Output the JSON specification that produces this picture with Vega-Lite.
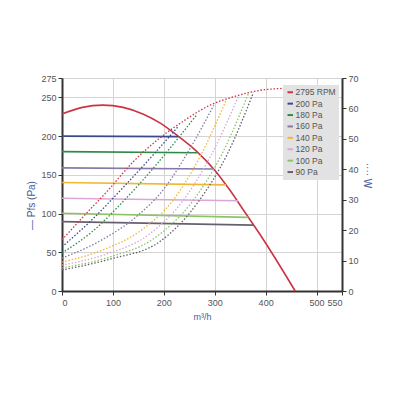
{
  "$schema": "https://vega.github.io/schema/vega-lite/v6.json",
  "width": 280,
  "height": 213,
  "autosize": {"type": "none"},
  "padding": {"left": 62, "top": 78, "right": 57, "bottom": 108},
  "background": "white",
  "config": {
    "font": "Liberation Sans",
    "view": {"stroke": null},
    "axis": {"labelFont": "Liberation Sans", "titleFont": "Liberation Sans", "labelColor": "#555", "labelFontSize": 9, "domainColor": "#333", "domainWidth": 2, "tickColor": "#333", "tickSize": 4, "gridColor": "#d4d4d4", "gridWidth": 1, "titleFontWeight": "normal"},
    "legend": {"labelFont": "Liberation Sans"}
  },
  "datasets": {
    "pressure": [
      {"series": "2795 RPM", "q": 0, "v": 228.5},
      {"series": "2795 RPM", "q": 40, "v": 237.1},
      {"series": "2795 RPM", "q": 80, "v": 240},
      {"series": "2795 RPM", "q": 120, "v": 237.1},
      {"series": "2795 RPM", "q": 160, "v": 228.3},
      {"series": "2795 RPM", "q": 193, "v": 216.7},
      {"series": "2795 RPM", "q": 228, "v": 200},
      {"series": "2795 RPM", "q": 265, "v": 180},
      {"series": "2795 RPM", "q": 300, "v": 156},
      {"series": "2795 RPM", "q": 330, "v": 130},
      {"series": "2795 RPM", "q": 360, "v": 101},
      {"series": "2795 RPM", "q": 390, "v": 72},
      {"series": "2795 RPM", "q": 420, "v": 41},
      {"series": "2795 RPM", "q": 458, "v": 0},
      {"series": "200 Pa", "q": 0, "v": 200},
      {"series": "200 Pa", "q": 228, "v": 199.3},
      {"series": "180 Pa", "q": 0, "v": 180},
      {"series": "180 Pa", "q": 265, "v": 178.5},
      {"series": "160 Pa", "q": 0, "v": 159},
      {"series": "160 Pa", "q": 298, "v": 157.5},
      {"series": "140 Pa", "q": 0, "v": 140},
      {"series": "140 Pa", "q": 322, "v": 137},
      {"series": "120 Pa", "q": 0, "v": 119.7},
      {"series": "120 Pa", "q": 346, "v": 116.5},
      {"series": "100 Pa", "q": 0, "v": 100.3},
      {"series": "100 Pa", "q": 366, "v": 95},
      {"series": "90 Pa", "q": 0, "v": 89.6},
      {"series": "90 Pa", "q": 376, "v": 85}
    ],
    "power": [
      {"series": "2795 RPM", "q": 0, "v": 16.8},
      {"series": "2795 RPM", "q": 45, "v": 25},
      {"series": "2795 RPM", "q": 90, "v": 33},
      {"series": "2795 RPM", "q": 140, "v": 42.5},
      {"series": "2795 RPM", "q": 190, "v": 50},
      {"series": "2795 RPM", "q": 240, "v": 56},
      {"series": "2795 RPM", "q": 290, "v": 61},
      {"series": "2795 RPM", "q": 340, "v": 64},
      {"series": "2795 RPM", "q": 400, "v": 66.2},
      {"series": "2795 RPM", "q": 458, "v": 66.7},
      {"series": "200 Pa", "q": 0, "v": 14.5},
      {"series": "200 Pa", "q": 60, "v": 23.6},
      {"series": "200 Pa", "q": 120, "v": 34},
      {"series": "200 Pa", "q": 180, "v": 44.9},
      {"series": "200 Pa", "q": 228, "v": 54},
      {"series": "180 Pa", "q": 0, "v": 12.5},
      {"series": "180 Pa", "q": 60, "v": 19.6},
      {"series": "180 Pa", "q": 120, "v": 29.4},
      {"series": "180 Pa", "q": 180, "v": 40.5},
      {"series": "180 Pa", "q": 230, "v": 50.6},
      {"series": "180 Pa", "q": 265, "v": 58},
      {"series": "160 Pa", "q": 0, "v": 10.8},
      {"series": "160 Pa", "q": 75, "v": 16.5},
      {"series": "160 Pa", "q": 150, "v": 25},
      {"series": "160 Pa", "q": 200, "v": 33.5},
      {"series": "160 Pa", "q": 250, "v": 46.4},
      {"series": "160 Pa", "q": 298, "v": 61},
      {"series": "140 Pa", "q": 0, "v": 9.5},
      {"series": "140 Pa", "q": 80, "v": 13.5},
      {"series": "140 Pa", "q": 160, "v": 20.5},
      {"series": "140 Pa", "q": 220, "v": 30.2},
      {"series": "140 Pa", "q": 270, "v": 43.8},
      {"series": "140 Pa", "q": 322, "v": 62.5},
      {"series": "120 Pa", "q": 0, "v": 8.5},
      {"series": "120 Pa", "q": 85, "v": 12},
      {"series": "120 Pa", "q": 170, "v": 18.5},
      {"series": "120 Pa", "q": 240, "v": 30.2},
      {"series": "120 Pa", "q": 295, "v": 45.3},
      {"series": "120 Pa", "q": 346, "v": 63.8},
      {"series": "100 Pa", "q": 0, "v": 7.6},
      {"series": "100 Pa", "q": 90, "v": 11},
      {"series": "100 Pa", "q": 180, "v": 17.2},
      {"series": "100 Pa", "q": 255, "v": 29.2},
      {"series": "100 Pa", "q": 315, "v": 45.3},
      {"series": "100 Pa", "q": 366, "v": 64.8},
      {"series": "90 Pa", "q": 0, "v": 6.9},
      {"series": "90 Pa", "q": 95, "v": 10.5},
      {"series": "90 Pa", "q": 190, "v": 16},
      {"series": "90 Pa", "q": 265, "v": 28.7},
      {"series": "90 Pa", "q": 325, "v": 45.1},
      {"series": "90 Pa", "q": 376, "v": 65.2}
    ]
  },
  "encoding": {
    "x": {"field": "q", "type": "quantitative", "scale": {"domain": [0, 550], "nice": false, "zero": false},
      "axis": {"values": [0, 100, 200, 300, 400, 500, 550], "title": "m³/h", "titleColor": "#4a5a9a", "titleFontSize": 9, "titlePadding": 5, "labelPadding": 3, "tickSize": 4}},
    "color": {"field": "series", "type": "nominal",
      "scale": {"domain": ["2795 RPM", "200 Pa", "180 Pa", "160 Pa", "140 Pa", "120 Pa", "100 Pa", "90 Pa"],
        "range": ["#cc3344", "#3b4a8c", "#2f8a4a", "#857aa6", "#f2b632", "#dba6d6", "#8cc464", "#66606e"]},
      "legend": {"title": null, "orient": "none", "legendX": 221, "legendY": 7, "fillColor": "#e2e2e2", "padding": 3, "labelFontSize": 8.5, "labelColor": "#555", "symbolType": "stroke", "symbolStrokeWidth": 2, "symbolSize": 30, "rowPadding": 2.4, "labelOffset": 1}}
  },
  "layer": [
    {
      "data": {"name": "pressure"},
      "mark": {"type": "line", "strokeWidth": 1.6, "interpolate": "monotone"},
      "encoding": {
        "y": {"field": "v", "type": "quantitative", "scale": {"domain": [0, 275], "nice": false},
          "axis": {"orient": "left", "values": [0, 50, 100, 150, 200, 250, 275], "title": "—   Pfs (Pa)", "titleColor": "#4a5a9a", "titleFontSize": 10, "titleX": -26, "titleY": 127}}
      }
    },
    {
      "data": {"name": "power"},
      "mark": {"type": "line", "strokeWidth": 1.3, "strokeDash": [1.5, 1.8], "interpolate": "monotone"},
      "encoding": {
        "y": {"field": "v", "type": "quantitative", "scale": {"domain": [0, 70], "nice": false},
          "axis": {"orient": "right", "values": [0, 10, 20, 30, 40, 50, 60, 70], "grid": false, "title": "····  W", "titleAngle": 90, "titleColor": "#4a5a9a", "titleFontSize": 10, "titlePadding": 3, "titleY": 97}}
      }
    }
  ],
  "resolve": {"scale": {"y": "independent"}}
}
